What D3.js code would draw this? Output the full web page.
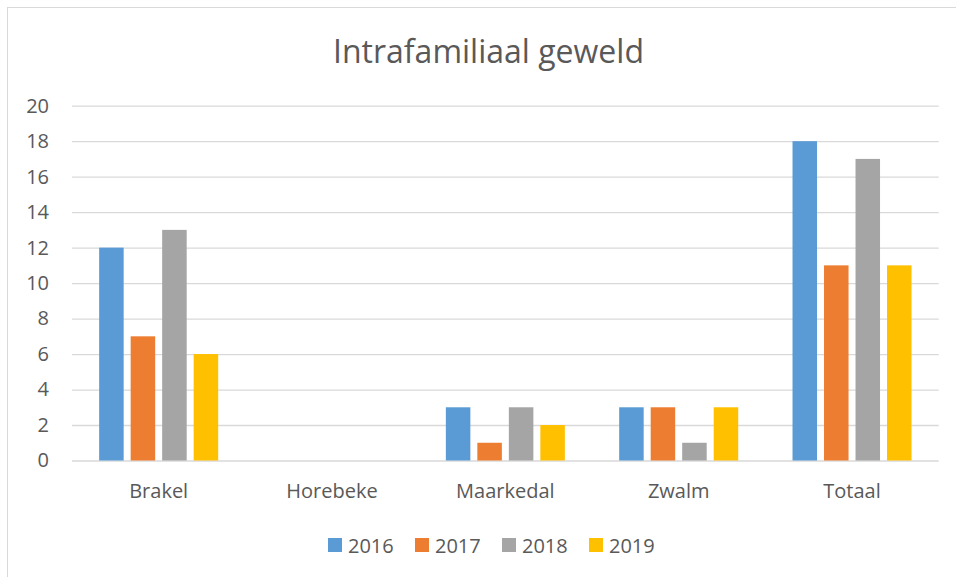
<!DOCTYPE html>
<html>
<head>
<meta charset="utf-8">
<script src="https://cdn.jsdelivr.net/npm/d3@7"></script>
<style>
  html, body { margin: 0; padding: 0; background: #fff; }
  svg { display: block; }
  text { font-family: "Open Sans", sans-serif; fill: #595959; }
</style>
</head>
<body>
<script>
const title = "Intrafamiliaal geweld";
const categories = ["Brakel", "Horebeke", "Maarkedal", "Zwalm", "Totaal"];
const seriesNames = ["2016", "2017", "2018", "2019"];
const values2016 = [12, 0, 3, 3, 18];
const values2017 = [7, 0, 1, 3, 11];
const values2018 = [13, 0, 3, 1, 17];
const values2019 = [6, 0, 2, 3, 11];
const seriesColors = ["#5B9BD5", "#ED7D31", "#A5A5A5", "#FFC000"];
const yTicks = [0, 2, 4, 6, 8, 10, 12, 14, 16, 18, 20];

const seriesValues = [values2016, values2017, values2018, values2019];

const W = 956, H = 577;
const plot = { left: 72, right: 938.7, top: 105.7, bottom: 460.5 };

const svg = d3.select("body").append("svg").attr("width", W).attr("height", H);

// chart border (left & top visible)
svg.append("rect")
  .attr("x", 7.5).attr("y", 7.5)
  .attr("width", W + 20).attr("height", H + 20)
  .attr("fill", "#fff").attr("stroke", "#d9d9d9").attr("stroke-width", 1);

const x0 = d3.scaleBand().domain(categories).range([plot.left, plot.right]).paddingInner(0).paddingOuter(0);
const x1 = d3.scaleBand().domain(seriesNames).range([0, x0.bandwidth()]).paddingInner(0.222).paddingOuter(0.862);
const y = d3.scaleLinear().domain([0, 20]).range([plot.bottom, plot.top]);

// gridlines
const grid = svg.append("g").attr("transform", `translate(${plot.left},0)`)
  .call(d3.axisLeft(y).tickValues(yTicks).tickSize(-(plot.right - plot.left)).tickFormat(""));
grid.select(".domain").remove();
grid.selectAll("line").attr("stroke", "#d9d9d9").attr("stroke-width", 1.3);

// y axis labels
const yAxis = svg.append("g").attr("transform", `translate(${plot.left - 23},0)`)
  .call(d3.axisLeft(y).tickValues(yTicks).tickSize(0).tickPadding(0));
yAxis.select(".domain").remove();
yAxis.selectAll("text").attr("font-size", 20).attr("fill", "#595959")
  .style("font-family", '"Open Sans", sans-serif');

// bars
const groups = svg.append("g").selectAll("g")
  .data(categories).join("g")
  .attr("transform", d => `translate(${x0(d)},0)`);
groups.selectAll("rect")
  .data((c, ci) => seriesNames.map((s, si) => ({ s, si, v: seriesValues[si][ci] })))
  .join("rect")
  .attr("x", d => x1(d.s))
  .attr("width", x1.bandwidth())
  .attr("y", d => y(d.v))
  .attr("height", d => y(0) - y(d.v))
  .attr("fill", d => seriesColors[d.si]);

// x axis labels
const xAxis = svg.append("g").attr("transform", `translate(0,${plot.bottom})`)
  .call(d3.axisBottom(x0).tickSize(0).tickPadding(0));
xAxis.select(".domain").remove();
xAxis.selectAll("text").attr("font-size", 20).attr("dy", null).attr("y", 37.5)
  .attr("fill", "#595959").style("font-family", '"Open Sans", sans-serif');

// title
svg.append("text").attr("x", 488.5).attr("y", 63).attr("text-anchor", "middle")
  .attr("font-size", 32).text(title);

// legend
const legendX = d3.scaleBand().domain(seriesNames).range([328, 328 + 87 * 4]);
const leg = svg.append("g").selectAll("g").data(seriesNames).join("g")
  .attr("transform", d => `translate(${legendX(d)},538)`);
leg.append("rect").attr("width", 14).attr("height", 14)
  .attr("fill", (d, i) => seriesColors[i]);
leg.append("text").attr("x", 20).attr("y", 14.5).attr("font-size", 20).text(d => d);
</script>
</body>
</html>
